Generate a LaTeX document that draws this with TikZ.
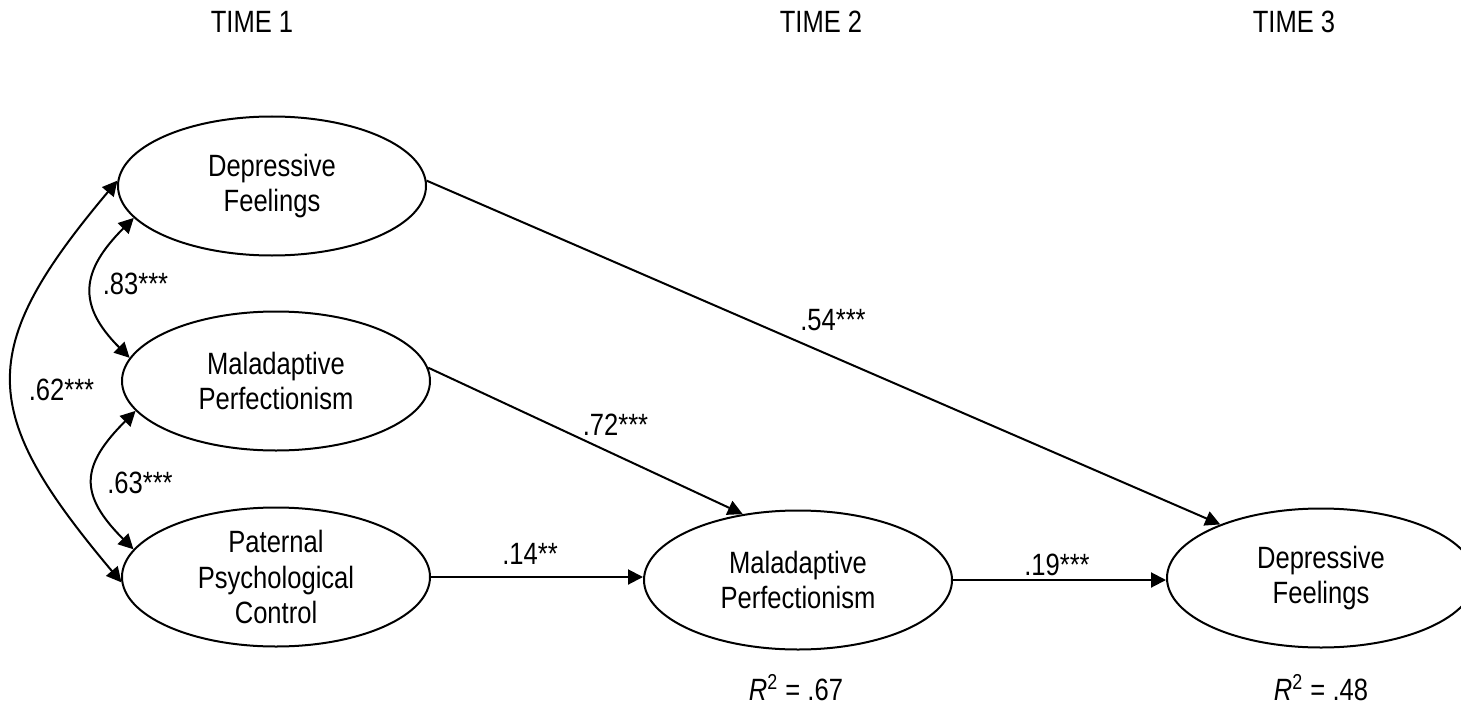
\documentclass[tikz,border=0pt]{standalone}
\usepackage{fontspec}
\setmainfont{Liberation Sans}[FakeStretch=0.83]
\usetikzlibrary{arrows.meta,shapes.geometric}

\begin{document}
\begin{tikzpicture}[x=0.5pt,y=-0.5pt,
  every node/.style={font=\fontsize{15.4}{17.6}\selectfont},
  latent/.style={ellipse,draw,line width=1pt,minimum width=154pt,
    minimum height=69.5pt,inner sep=0pt,align=center},
  tip/.style={Triangle[length=7.5pt,width=7.5pt]},
  effect/.style={line width=1pt,-{Triangle[length=7.5pt,width=7.5pt]}},
  cov/.style={line width=1pt,{Triangle[length=7.5pt,width=7.5pt]}-{Triangle[length=7.5pt,width=7.5pt]}},
  coef/.style={anchor=base,inner sep=0pt}]

\useasboundingbox (0,0) rectangle (1461,706);
\clip (0,0) rectangle (1461,706);

% wave headings
\node[coef] (t1) at (252,33) {TIME 1};
\node[coef] (t2) at (821,33) {TIME 2};
\node[coef] (t3) at (1294,33) {TIME 3};

% latent variables
\node[latent] (dep1) at (272,186) {Depressive\\Feelings};
\node[latent] (mal1) at (276,381) {Maladaptive\\Perfectionism};
\node[latent] (pat)  at (276,577) {Paternal\\Psychological\\Control};
\node[latent] (mal2) at (798,580) {Maladaptive\\Perfectionism};
\node[latent] (dep3) at (1321,578) {Depressive\\Feelings};

% correlations among Time 1 variables
\draw[cov] (dep1.178) .. controls +(-143,170) and +(-143,-170) .. (pat.182);
\draw[cov] (dep1.193) .. controls +(-53,53) and +(-53,-53) .. (mal1.171);
\draw[cov] (mal1.192) .. controls +(-55,55) and +(-55,-55) .. (pat.169);

% structural paths
\draw[effect] (dep1.2) -- (dep3.152);
\draw[effect] (mal1.5) -- (mal2.130);
\draw[effect] (pat.east) -- (pat.east -| mal2.west);
\draw[effect] (mal2.east) -- (mal2.east -| dep3.west);

% coefficients
\node[coef] (c83) at (135.5,294) {.83***};
\node[coef] (c62) at (61.5,400) {.62***};
\node[coef] (c63) at (140,493) {.63***};
\node[coef] (c54) at (833,330) {.54***};
\node[coef] (c72) at (615.5,435) {.72***};
\node[coef] (c14) at (530,564) {.14**};
\node[coef] (c19) at (1057,575) {.19***};

% explained variance
\node[coef] (r2a) at (796,700) {\textit{R}\textsuperscript{2} = .67};
\node[coef] (r2b) at (1321,700) {\textit{R}\textsuperscript{2} = .48};
\end{tikzpicture}
\end{document}
